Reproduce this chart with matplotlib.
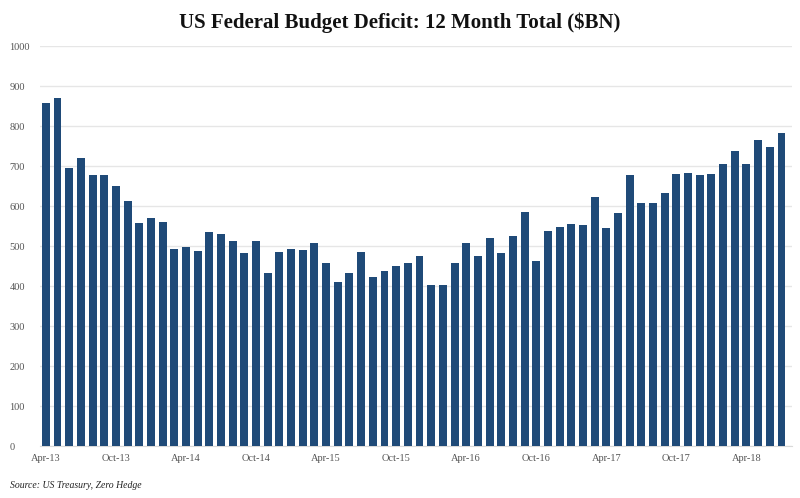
from matplotlib import pyplot as plt
import pandas as pd

# 12 month rolling federal deficit, $BN, Apr-13 .. Jul-18
months = pd.date_range('2013-04-01', '2018-07-01', freq='MS')
deficit = [857, 869, 694, 721, 678, 678, 650, 612, 557, 571, 561, 492,
           497, 488, 534, 531, 512, 482, 512, 433, 485, 492, 490, 507,
           457, 411, 432, 486, 422, 437, 451, 458, 476, 403, 403, 457,
           508, 476, 521, 483, 526, 584, 462, 537, 548, 554, 552, 622,
           546, 582, 678, 608, 608, 633, 680, 682, 678, 680, 704, 738,
           704, 764, 747, 782]
labels = [m.strftime('%b-%y') for m in months]

fig = plt.figure(figsize=(8, 4.98), dpi=100)
ax = fig.add_axes([0.05, 0.1044, 0.94, 0.8032])

x = list(range(len(deficit)))
ax.bar(x, deficit, width=0.68, color='#1f4a78', zorder=3)

ax.set_ylim(0, 1000)
ax.set_xlim(-0.5, 63.9)
ax.set_yticks(range(0, 1001, 100))
ax.set_xticks(x[::6])
ax.set_xticklabels(labels[::6])
ax.grid(axis='y', color='#e6e6e6', linewidth=1, zorder=0)
for s in ['top', 'right', 'left']:
    ax.spines[s].set_visible(False)
ax.spines['bottom'].set_color('#d9d9d9')
ax.tick_params(length=0, labelsize=7.5, labelcolor='#555555', pad=6)
for t in ax.get_xticklabels() + ax.get_yticklabels():
    t.set_family('Liberation Serif')
for t in ax.get_yticklabels():
    t.set_horizontalalignment('left')
ax.tick_params(axis='y', pad=22)

fig.text(0.5, 0.955, 'US Federal Budget Deficit: 12 Month Total ($BN)',
         ha='center', va='center', fontsize=15, fontweight='bold',
         family='Liberation Serif', color='#111111')
fig.text(0.012, 0.025, 'Source: US Treasury, Zero Hedge', ha='left', va='center',
         fontsize=7, style='italic', family='Liberation Serif', color='#222222')

plt.savefig('out.png', dpi=100)
plt.close()
